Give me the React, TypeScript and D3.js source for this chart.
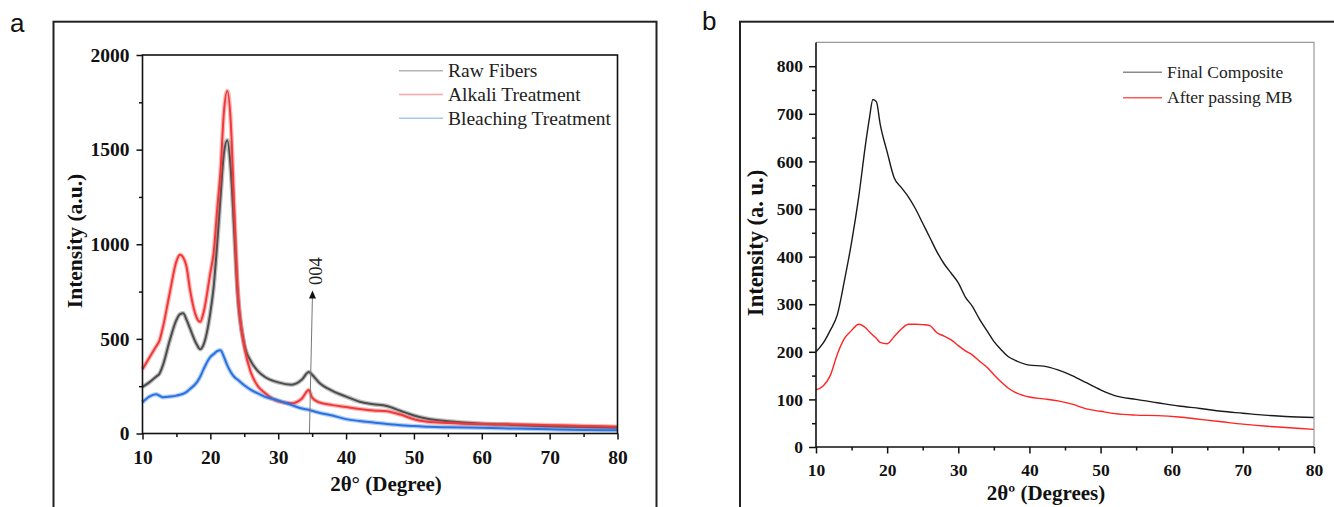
import React, { useEffect, useRef } from 'react';
import * as d3 from 'd3';

// panel a - XRD of the fibres
const thetaA = [10, 11, 12, 12.5, 13, 14, 15, 15.5, 16, 16.5, 17, 18, 18.5, 19, 20, 20.5, 21, 21.5, 22, 22.5, 23, 23.5, 24, 25, 26, 27, 28, 30, 32, 33.5, 34.5, 35, 36, 38, 40, 42, 44, 46, 48, 50, 52, 55, 60, 65, 70, 75, 80];
const rawFibers = [246, 270, 300, 316, 360, 490, 600, 630, 635, 600, 555, 470, 445, 470, 640, 780, 1000, 1250, 1480, 1550, 1400, 1080, 750, 470, 380, 330, 300, 270, 258, 285, 325, 310, 270, 225, 195, 168, 155, 145, 120, 95, 78, 65, 52, 45, 38, 35, 30];
const alkaliTreatment = [340, 400, 460, 491, 560, 740, 910, 945, 930, 880, 760, 610, 590, 640, 850, 960, 1180, 1390, 1700, 1810, 1650, 1210, 780, 460, 320, 250, 215, 170, 160, 185, 230, 190, 165, 150, 140, 130, 122, 118, 100, 75, 62, 56, 50, 48, 44, 40, 36];
const bleachingTreatment = [165, 195, 208, 200, 192, 195, 200, 205, 210, 220, 235, 270, 300, 340, 405, 420, 435, 440, 405, 360, 325, 300, 285, 255, 230, 212, 195, 175, 150, 132, 125, 120, 110, 95, 76, 66, 58, 50, 44, 39, 36, 33, 30, 26, 22, 19, 17];
const yTicksA = [0, 500, 1000, 1500, 2000];
const yMinorA = [250, 750, 1250, 1750];
const legendA = ['Raw Fibers', 'Alkali Treatment', 'Bleaching Treatment'];

// panel b - composite before / after MB
const thetaB = [10, 11, 12, 13, 14, 15, 16, 17, 17.5, 18, 18.5, 19, 20, 21, 22, 23, 24, 25, 26, 27, 28, 29, 30, 31, 32, 33, 34, 35, 36, 37, 38, 40, 42, 44, 46, 48, 50, 52, 55, 58, 61, 64, 67, 70, 73, 76, 80];
const finalComposite = [200, 218, 245, 278, 350, 430, 525, 640, 690, 730, 725, 680, 620, 565, 545, 525, 500, 470, 440, 410, 385, 365, 345, 315, 295, 268, 245, 222, 205, 190, 182, 172, 170, 162, 150, 135, 120, 108, 100, 93, 86, 81, 75, 71, 67, 64, 62];
const afterMB = [120, 128, 150, 195, 228, 245, 258, 250, 242, 235, 228, 220, 217, 232, 248, 258, 258, 257, 255, 240, 233, 225, 213, 202, 193, 180, 168, 152, 137, 124, 115, 105, 101, 97, 90, 80, 75, 70, 67, 66, 63, 58, 53, 48, 44, 41, 37];
const yTicksB = [0, 100, 200, 300, 400, 500, 600, 700, 800];
const yMinorB = [50, 150, 250, 350, 450, 550, 650, 750];
const legendB = ['Final Composite', 'After passing MB'];

const xTicks = [10, 20, 30, 40, 50, 60, 70, 80];
const xMinor = [15, 25, 35, 45, 55, 65, 75];

const serif = '"Liberation Serif", "Times New Roman", serif';
const sans = '"Liberation Sans", Arial, sans-serif';

function styleAxis(g, size) {
  g.select('.domain').remove();
  g.selectAll('line').attr('stroke', '#111').attr('stroke-width', 1.5);
  g.attr('font-family', serif).attr('font-size', size).attr('font-weight', 'bold');
  g.selectAll('text').attr('fill', '#111');
}

export default function App() {
  const ref = useRef(null);

  useEffect(() => {
    const svg = d3.select(ref.current);
    svg.selectAll('*').remove();

    // outer frames
    svg.append('rect').attr('x', 53.5).attr('y', 21.7).attr('width', 603).attr('height', 500)
      .attr('fill', 'none').attr('stroke', '#222').attr('stroke-width', 2);
    svg.append('rect').attr('x', 740).attr('y', 21.7).attr('width', 620).attr('height', 500)
      .attr('fill', 'none').attr('stroke', '#222').attr('stroke-width', 2);

    svg.append('text').attr('x', 10).attr('y', 32).text('a')
      .attr('font-family', sans).attr('font-size', 26).attr('fill', '#111');
    svg.append('text').attr('x', 702).attr('y', 30).text('b')
      .attr('font-family', sans).attr('font-size', 26).attr('fill', '#111');

    // ---------- panel a ----------
    const xa = d3.scaleLinear().domain([10, 80]).range([142.5, 617.5]);
    const ya = d3.scaleLinear().domain([0, 2000]).range([433.5, 55]);
    const ga = svg.append('g');

    const lineA = (vals) => d3.line().x((d, i) => xa(thetaA[i])).y(d => ya(d)).curve(d3.curveMonotoneX)(vals);
    const seriesA = [
      { vals: rawFibers, color: '#4d4d4d', light: '#b4b4b4' },
      { vals: alkaliTreatment, color: '#f03a3a', light: '#f7a6a6' },
      { vals: bleachingTreatment, color: '#2a72e0', light: '#a8c6f0' },
    ];
    // wide pale band under each trace to mimic the noisy signal, then the trace itself
    seriesA.forEach(s => {
      ga.append('path').attr('d', lineA(s.vals)).attr('fill', 'none')
        .attr('stroke', s.color).attr('stroke-opacity', 0.35).attr('stroke-width', 4.5).attr('stroke-linejoin', 'round');
      ga.append('path').attr('d', lineA(s.vals)).attr('fill', 'none')
        .attr('stroke', s.color).attr('stroke-width', 2).attr('stroke-linejoin', 'round');
    });

    // 004 annotation
    ga.append('line').attr('x1', xa(34.6)).attr('y1', ya(0)).attr('x2', xa(35.05)).attr('y2', ya(735))
      .attr('stroke', '#777').attr('stroke-width', 1);
    const tipX = xa(35.05), tipY = ya(755);
    ga.append('path').attr('d', `M${tipX},${tipY} L${tipX - 3.5},${tipY + 8} L${tipX + 3.5},${tipY + 8} Z`).attr('fill', '#111');
    ga.append('text').attr('transform', `translate(322,271) rotate(-90)`).attr('text-anchor', 'middle')
      .attr('font-family', serif).attr('font-size', 18.5).attr('fill', '#222').text('004');

    ga.append('rect').attr('x', xa(10)).attr('y', ya(2000)).attr('width', xa(80) - xa(10)).attr('height', ya(0) - ya(2000))
      .attr('fill', 'none').attr('stroke', '#111').attr('stroke-width', 1.6);

    const axA = ga.append('g').attr('transform', `translate(0,${ya(0)})`)
      .call(d3.axisBottom(xa).tickValues(xTicks).tickSize(6).tickPadding(11).tickFormat(d3.format('d')));
    styleAxis(axA, 19.5);
    const axAm = ga.append('g').attr('transform', `translate(0,${ya(0)})`)
      .call(d3.axisBottom(xa).tickValues(xMinor).tickSize(3.5).tickFormat(() => ''));
    styleAxis(axAm, 19.5);
    const ayA = ga.append('g').attr('transform', `translate(${xa(10)},0)`)
      .call(d3.axisLeft(ya).tickValues(yTicksA).tickSize(6).tickPadding(7).tickFormat(d3.format('d')));
    styleAxis(ayA, 19.5);
    const ayAm = ga.append('g').attr('transform', `translate(${xa(10)},0)`)
      .call(d3.axisLeft(ya).tickValues(yMinorA).tickSize(3.5).tickFormat(() => ''));
    styleAxis(ayAm, 19.5);

    ga.append('text').attr('transform', 'translate(81.5,241) rotate(-90)').attr('text-anchor', 'middle')
      .attr('font-family', serif).attr('font-size', 21.5).attr('font-weight', 'bold').attr('fill', '#111')
      .text('Intensity (a.u.)');
    ga.append('text').attr('x', 386).attr('y', 490.5).attr('text-anchor', 'middle')
      .attr('font-family', serif).attr('font-size', 21).attr('font-weight', 'bold').attr('fill', '#111')
      .text('2θ° (Degree)');

    const legA = ga.append('g');
    legendA.forEach((name, i) => {
      const yy = 70.7 + i * 23.8;
      legA.append('line').attr('x1', 399).attr('x2', 443).attr('y1', yy).attr('y2', yy)
        .attr('stroke', seriesA[i].light).attr('stroke-width', 1.6);
      legA.append('text').attr('x', 448).attr('y', yy).attr('dy', '0.33em')
        .attr('font-family', serif).attr('font-size', 19.5).attr('fill', '#222').text(name);
    });

    // ---------- panel b ----------
    const xb = d3.scaleLinear().domain([10, 80]).range([816, 1314]);
    const yb = d3.scaleLinear().domain([0, 850]).range([447, 42.4]);
    const gb = svg.append('g');

    const lineB = (vals) => d3.line().x((d, i) => xb(thetaB[i])).y(d => yb(d)).curve(d3.curveMonotoneX)(vals);
    const seriesB = [
      { vals: finalComposite, color: '#1a1a1a', light: '#8a8a8a' },
      { vals: afterMB, color: '#ff2424', light: '#ff5a5a' },
    ];
    seriesB.forEach(s => {
      gb.append('path').attr('d', lineB(s.vals)).attr('fill', 'none')
        .attr('stroke', s.color).attr('stroke-width', 1.4).attr('stroke-linejoin', 'round');
    });

    // top + right border in grey, left + bottom axis in black
    gb.append('path').attr('d', `M${xb(10)},${yb(850)} H${xb(80)} V${yb(0)}`)
      .attr('fill', 'none').attr('stroke', '#999').attr('stroke-width', 1.2);
    gb.append('path').attr('d', `M${xb(10)},${yb(850)} V${yb(0)} H${xb(80)}`)
      .attr('fill', 'none').attr('stroke', '#111').attr('stroke-width', 1.6);

    const axB = gb.append('g').attr('transform', `translate(0,${yb(0)})`)
      .call(d3.axisBottom(xb).tickValues(xTicks).tickSize(6.5).tickPadding(10.5).tickFormat(d3.format('d')));
    styleAxis(axB, 17.5);
    const axBm = gb.append('g').attr('transform', `translate(0,${yb(0)})`)
      .call(d3.axisBottom(xb).tickValues(xMinor).tickSize(3.5).tickFormat(() => ''));
    styleAxis(axBm, 17.5);
    const ayB = gb.append('g').attr('transform', `translate(${xb(10)},0)`)
      .call(d3.axisLeft(yb).tickValues(yTicksB).tickSize(7).tickPadding(6).tickFormat(d3.format('d')));
    styleAxis(ayB, 17.5);
    const ayBm = gb.append('g').attr('transform', `translate(${xb(10)},0)`)
      .call(d3.axisLeft(yb).tickValues(yMinorB).tickSize(4).tickFormat(() => ''));
    styleAxis(ayBm, 17.5);

    gb.append('text').attr('transform', 'translate(763,243) rotate(-90)').attr('text-anchor', 'middle')
      .attr('font-family', serif).attr('font-size', 22.5).attr('font-weight', 'bold').attr('fill', '#111')
      .text('Intensity (a. u.)');
    gb.append('text').attr('x', 1046).attr('y', 500).attr('text-anchor', 'middle')
      .attr('font-family', serif).attr('font-size', 21).attr('font-weight', 'bold').attr('fill', '#111')
      .text('2θº (Degrees)');

    const legB = gb.append('g');
    legendB.forEach((name, i) => {
      const yy = 72.3 + i * 25.4;
      legB.append('line').attr('x1', 1123).attr('x2', 1162).attr('y1', yy).attr('y2', yy)
        .attr('stroke', seriesB[i].light).attr('stroke-width', 1.4);
      legB.append('text').attr('x', 1167).attr('y', yy).attr('dy', '0.33em')
        .attr('font-family', serif).attr('font-size', 17.5).attr('fill', '#222').text(name);
    });
  }, []);

  return (
    <svg ref={ref} width={1334} height={507}
      style={{ position: 'absolute', left: 0, top: 0, background: '#fff', display: 'block' }} />
  );
}
